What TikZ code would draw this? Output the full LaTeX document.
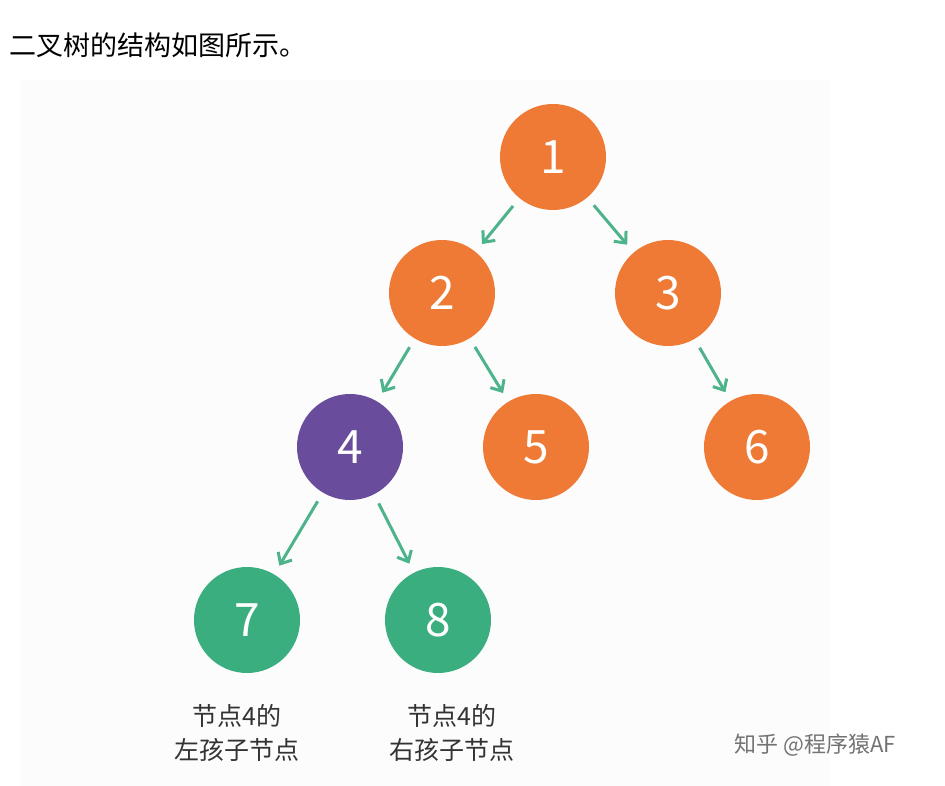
\documentclass[tikz,border=0pt]{standalone}
\usepackage{fontspec}
\newfontfamily\cjk{Noto Sans CJK SC}
\usetikzlibrary{arrows.meta}
\definecolor{org}{HTML}{EE7A35}
\definecolor{pur}{HTML}{6A4C9C}
\definecolor{grn}{HTML}{3BAE7F}
\definecolor{arr}{HTML}{4DB38A}
\begin{document}
\begin{tikzpicture}[x=1pt,y=-1pt,
  tn/.style={circle,minimum size=106pt,inner sep=0pt,text=white,font=\cjk\fontsize{46}{46}\selectfont},
  ed/.style={arr,line width=3pt,-{Straight Barb[length=9pt,width=16pt]},shorten <=10pt,shorten >=10pt},
  lb/.style={font=\cjk\fontsize{25}{34}\selectfont,text=black!80,align=center}]
\useasboundingbox (0,0) rectangle (945,786);
\fill[white] (0,0) rectangle (945,786);
\fill[black!1] (20,80) rectangle (830,786);
\node[anchor=west,font=\cjk\fontsize{27}{30}\selectfont] (t) at (6,45) {二叉树的结构如图所示。};
\node[tn,fill=org] (n1) at (553,157) {1};
\node[tn,fill=org] (n2) at (442,293) {2};
\node[tn,fill=org] (n3) at (668,293) {3};
\node[tn,fill=pur] (n4) at (350,447) {4};
\node[tn,fill=org] (n5) at (536,447) {5};
\node[tn,fill=org] (n6) at (757,447) {6};
\node[tn,fill=grn] (n7) at (247,620) {7};
\node[tn,fill=grn] (n8) at (438,620) {8};
\foreach \a/\b in {n1/n2,n1/n3,n2/n4,n2/n5,n3/n6,n4/n7,n4/n8}
  \draw[ed] (\a) -- (\b);
\node[lb] (l7) at (237,733) {节点4的\\左孩子节点};
\node[lb] (l8) at (452,733) {节点4的\\右孩子节点};
\node[font=\cjk\fontsize{22}{24}\selectfont,text=black!55] (w) at (815,745) {知乎 @程序猿AF};
\end{tikzpicture}
\end{document}
